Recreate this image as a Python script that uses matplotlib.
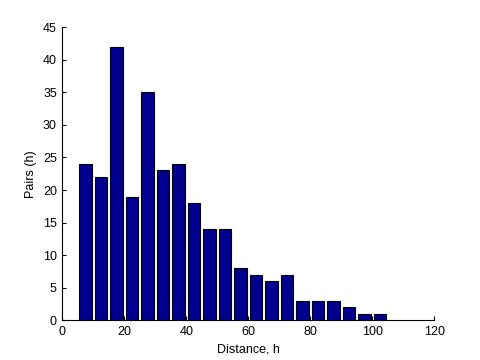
import numpy as np
import matplotlib
matplotlib.use('Agg')
import matplotlib.pyplot as plt

# lag centres and pair counts
lags = [7.5 + 5 * i for i in range(20)]
pairs = [24, 22, 42, 19, 35, 23, 24, 18, 14, 14, 8, 7, 6, 7, 3, 3, 3, 2, 1, 1]

plt.rcParams['font.family'] = ['Liberation Sans', 'DejaVu Sans']
plt.rcParams['font.size'] = 9

fig = plt.figure(figsize=(4.8, 3.6), dpi=100)
ax = fig.add_axes([0.13, 0.11, 0.775, 0.815])

ax.bar(lags, pairs, width=4, color='#00008F', edgecolor='black', linewidth=0.8)

ax.set_xlim(0, 120)
ax.set_ylim(0, 45)
ax.set_xticks(range(0, 121, 20))
ax.set_yticks(range(0, 46, 5))
ax.spines['top'].set_visible(False)
ax.spines['right'].set_visible(False)
ax.tick_params(direction='in', length=3, pad=4)
ax.set_xlabel('Distance, h', labelpad=4)
ax.set_ylabel('Pairs (h)')

fig.savefig('out.png', dpi=100)
